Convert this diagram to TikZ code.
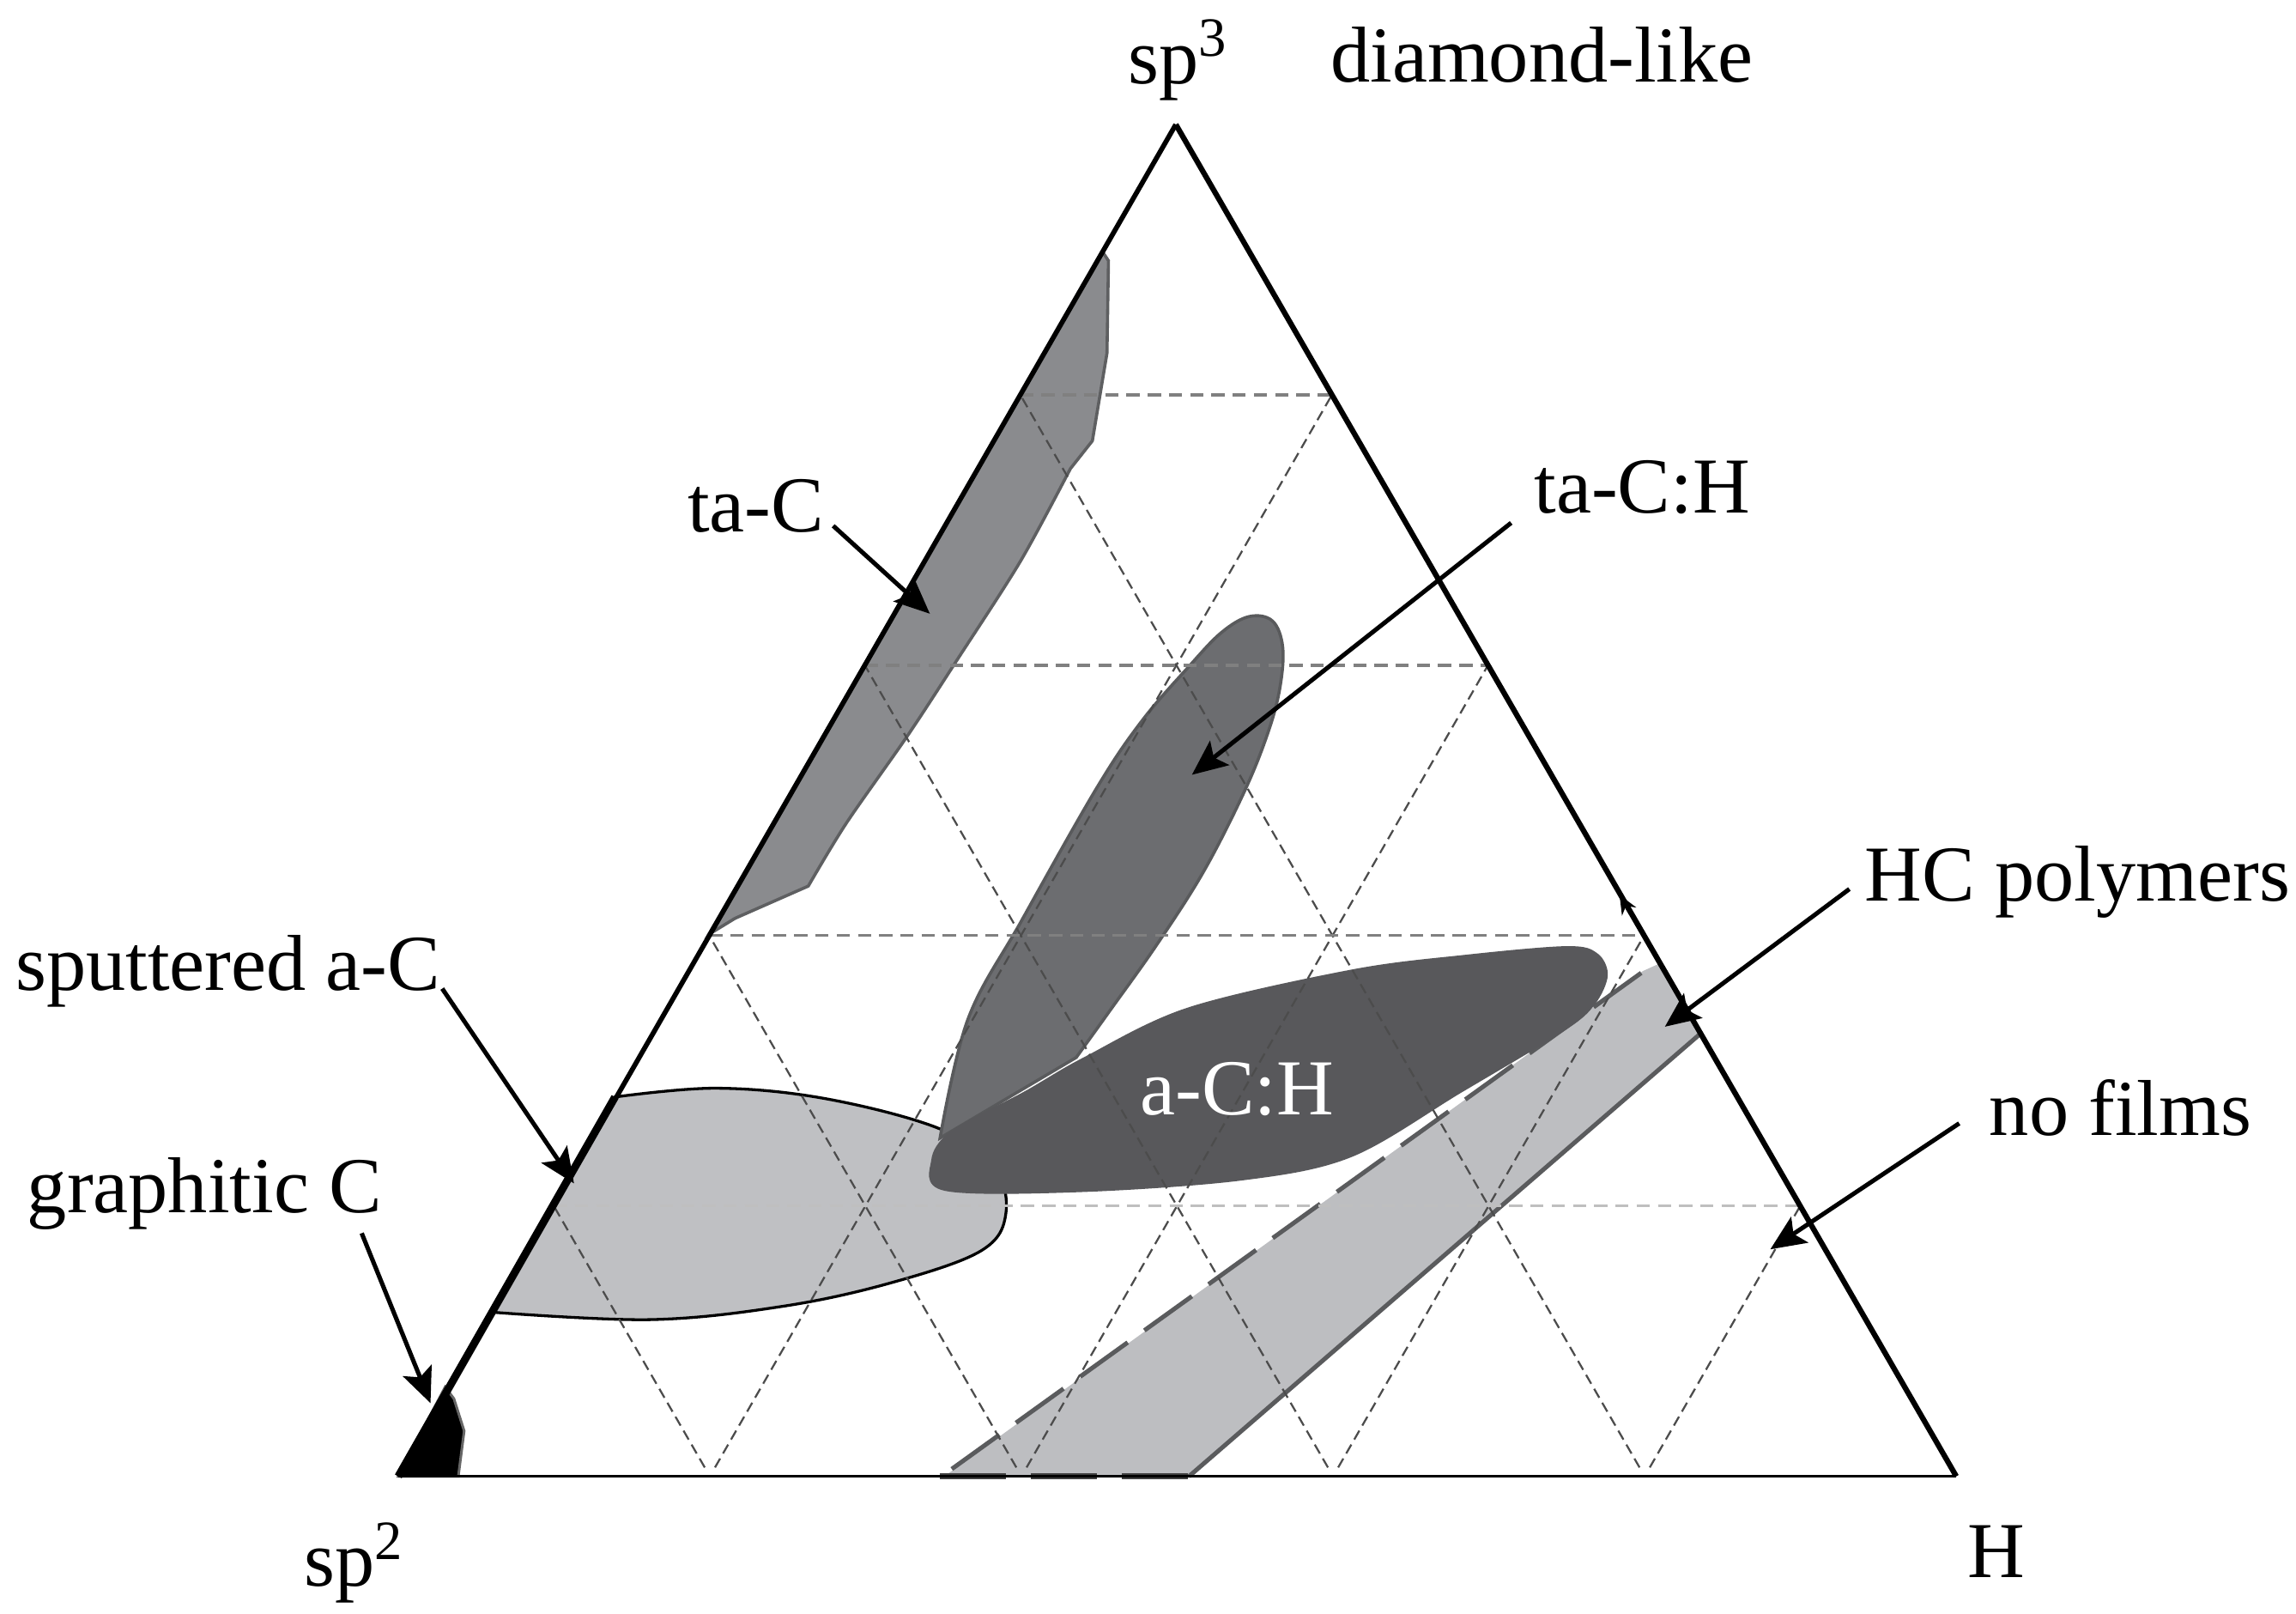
\documentclass[tikz,border=0pt]{standalone}
\usepackage{fontspec}
\setmainfont{Liberation Serif}
\usetikzlibrary{arrows.meta,calc}
\definecolor{tacfill}{HTML}{8A8B8E}
\definecolor{tacline}{HTML}{5E5F61}
\definecolor{tachfill}{HTML}{6C6D70}
\definecolor{tachline}{HTML}{595A5C}
\definecolor{achfill}{HTML}{58585B}
\definecolor{sputfill}{HTML}{BFC0C3}
\definecolor{bandfill}{HTML}{BDBEC1}
\definecolor{bandline}{HTML}{5A5B5D}
\begin{document}
\begin{tikzpicture}[x=0.1mm,y=-0.1mm,
  lbl/.style={anchor=base west,inner sep=0pt,font=\fontsize{15.4}{18}\selectfont},
  ptr/.style={line width=0.85pt,-{Stealth[length=2.4mm,width=2.1mm,inset=0.5mm]}},
  gridslant/.style={black!70,line width=0.38pt,dash pattern=on 0.7mm off 0.4mm},
  gridhor/.style={black!50,line width=0.55pt,dash pattern=on 0.9mm off 0.55mm},
  tacstyle/.style={fill=tacfill,draw=tacline,line width=0.6pt},
  tachstyle/.style={fill=tachfill,draw=tachline,line width=0.6pt},
  sputstyle/.style={fill=sputfill,draw=black,line width=0.55pt},
  bandedge/.style={draw=bandline,line width=0.85pt}]
\useasboundingbox (0,0) rectangle (1568,1102);
\coordinate (A) at (803,85);
\coordinate (B) at (272,1008);
\coordinate (C) at (1336,1008);

% sputtered a-C
\draw[sputstyle] plot[smooth,tension=0.6] coordinates {(420,749) (489,743) (563,750) (640,770) (678,795) (687,828) (670,854) (608,876) (534,892) (444,901) (337,896)} -- cycle;

% HC polymers band
\fill[bandfill] (645,1008) -- (1122,663) -- (1133,658) -- (1161,706) -- (812,1008) -- cycle;
\draw[bandedge,dash pattern=on 4mm off 1.4mm] (650,1003) -- (1124,662);
\draw[bandedge] (812,1008) -- (1161,706);
\draw[black!75,line width=1.1pt,dash pattern=on 4.5mm off 1.7mm] (642,1008) -- (812,1008);

% ta-C
\draw[tacstyle] (753,172) -- (757,178) -- (756,241) -- (746,301) -- (731,320) -- plot[smooth] coordinates {(731,320) (697,383) (654,450) (620,502) (578,562) (552,605)} -- (502,627) -- (484,638) -- cycle;

% ta-C:H
\draw[tachstyle] plot[smooth,tension=0.6] coordinates {(642,777) (661,696) (698,628) (749,538) (780,492) (812,455) (834,432) (853,421) (869,424) (876,442) (874,470) (866,500) (850,540) (822,595) (790,645) (758,690) (735,722)} -- cycle;

% a-C:H
\fill[achfill] plot[smooth cycle,tension=0.55] coordinates {(636,792) (650,772) (700,745) (740,722) (811,688) (923,662) (1000,652) (1070,646) (1091,651) (1098,666) (1089,686) (1068,704) (998,746) (923,790) (848,806) (736,814) (645,813)};

% graphitic C
\draw[fill=black,draw=black!60,line width=0.5pt] (272,1008) -- (313,1008) -- (317,977) -- (310,955) -- (304,947) -- cycle;

% grid
\foreach \k in {1,2,3,4}{
  \pgfmathsetmacro\f{\k/5}
  \pgfmathsetmacro\g{1-\k/5}
  \draw[gridslant,shorten <=0.7mm] ($(B)!\f!(C)$) -- ($(B)!\f!(A)$);
  \draw[gridslant,shorten <=0.7mm] ($(B)!\f!(C)$) -- ($(C)!\g!(A)$);
}
\foreach \k in {2,3,4}{
  \pgfmathsetmacro\f{\k/5}
  \draw[gridhor] ($(B)!\f!(A)$) -- ($(C)!\f!(A)$);
}
\draw[gridhor,black!25] ($(B)!0.2!(A)$) -- ($(C)!0.2!(A)$);

% triangle
\draw[line width=0.6pt] (B) -- (C);
\draw[line width=1.05pt] (C) -- (A);
\draw[line width=0.95pt] (A) -- (B);
\draw[line width=1.5pt] (B) -- (420,749);
\coordinate (eA) at (1113.5,624);
\coordinate (eB) at (1106,611);
\draw[line width=0.6pt,-{Stealth[length=1.3mm,width=1.1mm]}] (eA) -- (eB);

% labels
\node[lbl] (sp3) at (770,57) {sp\textsuperscript{3}};
\node[lbl] (dia) at (908,56) {diamond-like};
\node[lbl] (tac) at (469,363) {ta-C};
\node[lbl] (tach) at (1047,350) {ta-C:H};
\node[lbl] (sput) at (10,676) {sputtered a-C};
\node[lbl] (graph) at (18,828) {graphitic C};
\node[lbl] (hcp) at (1273,615) {HC polymers};
\node[lbl] (nof) at (1358,775) {no films};
\node[lbl] (sp2) at (207,1083) {sp\textsuperscript{2}};
\node[lbl] (hh) at (1343,1077) {H};
\node[lbl,text=white] (ach) at (778,761) {a-C:H};

% arrows
\coordinate (tacS) at (569,359);   \coordinate (tacT) at (635,419);
\coordinate (tachS) at (1032,357); \coordinate (tachT) at (814,529);
\coordinate (sputS) at (302,675);  \coordinate (sputT) at (392,808);
\coordinate (graphS) at (247,842); \coordinate (graphT) at (294,958);
\coordinate (hcpS) at (1263,607);  \coordinate (hcpT) at (1137,701);
\coordinate (nofS) at (1338,767);  \coordinate (nofT) at (1209,853);
\draw[ptr] (tacS) -- (tacT);
\draw[ptr] (tachS) -- (tachT);
\draw[ptr] (sputS) -- (sputT);
\draw[ptr] (graphS) -- (graphT);
\draw[ptr] (hcpS) -- (hcpT);
\draw[ptr] (nofS) -- (nofT);
\end{tikzpicture}
\end{document}
